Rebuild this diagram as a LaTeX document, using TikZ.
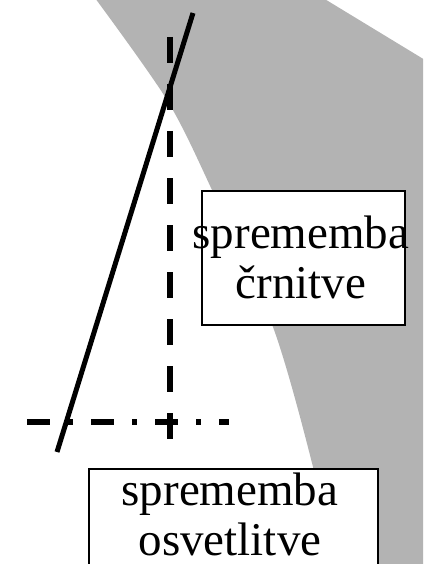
\documentclass[tikz,border=0pt]{standalone}
\usepackage{fontspec}
\setmainfont{Liberation Serif}
\usepackage{tikz}
\definecolor{bandgray}{RGB}{179,179,179}

\begin{document}
\begin{tikzpicture}[x=1pt,y=-1pt,every node/.style={font=\fontsize{47}{50}\selectfont}]
  \useasboundingbox (0,0) rectangle (423,564);
  \clip (0,0) rectangle (423,564);
  % shaded band
  \fill[bandgray] plot[smooth] coordinates {(95,-2) (167,100) (212,190) (273,327) (312,463) (334,566)}
    -- (425,566) -- (425,60) -- (323,-2) -- cycle;
  \coordinate (vt) at (170,37);
  \coordinate (vb) at (170,439);
  \coordinate (hl) at (27,422);
  \coordinate (hr) at (229,422);
  \coordinate (lt) at (193,13);
  \coordinate (lb) at (57,452);
  \draw[line width=6.5pt,dash pattern=on 26pt off 21pt] (vt)--(vb);
  \draw[line width=6.5pt,dash pattern=on 23pt off 18pt on 5pt off 18pt] (hl)--(hr);
  \draw[line width=5pt] (lt)--(lb);
  \node[draw,line width=2.5pt,fill=white,minimum width=203pt,minimum height=134pt] (blk) at (303.5,258) {};
  \node[align=center,inner sep=0pt] at (301,257) {sprememba\\črnitve};
  \node[draw,line width=2.5pt,fill=white,minimum width=289pt,minimum height=140pt] (lit) at (233.5,539) {};
  \node[align=center,inner sep=0pt] at (230,514) {sprememba\\osvetlitve};
\end{tikzpicture}
\end{document}
